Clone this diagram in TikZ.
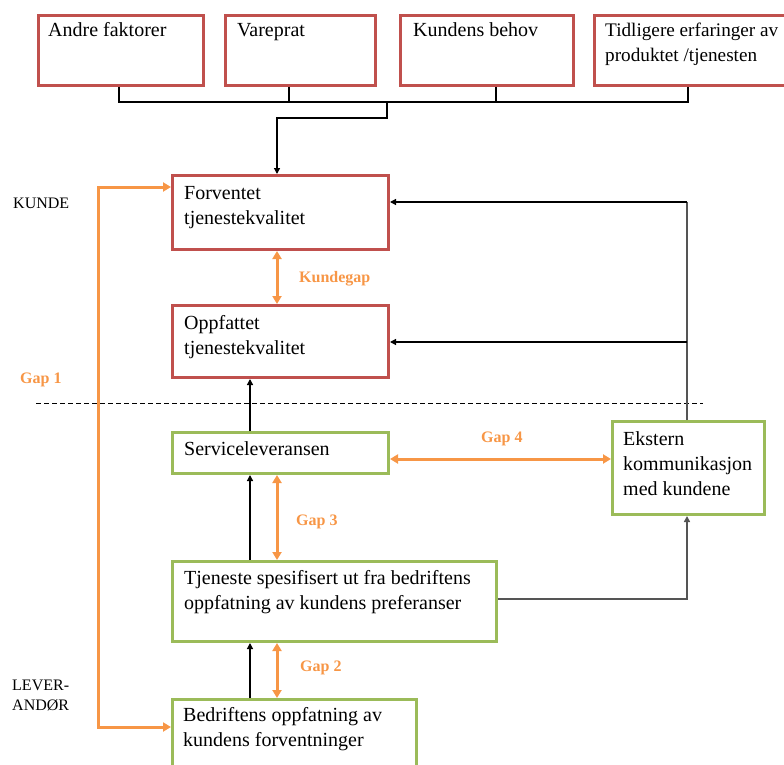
\documentclass[tikz,border=0pt]{standalone}
\usepackage{fontspec}
\setmainfont{Liberation Serif}
\usetikzlibrary{arrows.meta}
\definecolor{boxred}{HTML}{C0504D}
\definecolor{boxgreen}{HTML}{9BBB59}
\definecolor{gaporange}{HTML}{F79646}
\definecolor{linegray}{HTML}{555555}
\tikzset{
  box/.style={draw, line width=3pt, fill=white, inner sep=0pt, anchor=north west},
  redbox/.style={box, draw=boxred},
  greenbox/.style={box, draw=boxgreen},
  % multi-line texts are placed by the baseline of their last line
  boxtext/.style={anchor=base west, inner sep=0pt, align=left,
    font=\fontsize{20}{25}\selectfont},
  sidetext/.style={anchor=base west, inner sep=0pt, align=left,
    font=\fontsize{16}{20}\selectfont},
  gaptext/.style={anchor=base west, inner sep=0pt, text=gaporange,
    font=\fontsize{16}{20}\selectfont\bfseries},
  link/.style={line width=1.3pt, black},
  arr/.style={link, -{Triangle[length=6pt,width=6pt]}},
  glink/.style={line width=1.5pt, linegray},
  garr/.style={glink, -{Triangle[length=6pt,width=6pt]}},
  gap/.style={line width=3pt, gaporange, {Triangle[length=8pt,width=9pt]}-{Triangle[length=8pt,width=9pt]}},
}
\begin{document}
\begin{tikzpicture}[x=1pt,y=-1pt]
\useasboundingbox (0,0) rectangle (784,765);
\clip (0,0) rectangle (784,765);

% --- influencing factors (top row)
\node[redbox, minimum width=165pt, minimum height=70pt] (andre) at (37,14) {};
\node[redbox, minimum width=150pt, minimum height=70pt] (vare)  at (224,14) {};
\node[redbox, minimum width=173pt, minimum height=70pt] (behov) at (399,14) {};
\node[redbox, minimum width=197pt, minimum height=70pt] (tidl)  at (593,14) {};
\node[boxtext] (tandre) at (48,37) {Andre faktorer};
\node[boxtext] (tvare)  at (237,37) {Vareprat};
\node[boxtext] (tbehov) at (413,37) {Kundens behov};
\node[boxtext, font=\fontsize{19.2}{25}\selectfont] (ttidl) at (605,62) {Tidligere erfaringer av\\produktet /tjenesten};

% --- customer side
\node[redbox, minimum width=216pt, minimum height=74pt] (forv) at (171,174) {};
\node[redbox, minimum width=216pt, minimum height=72pt] (oppf) at (171,304) {};
\node[boxtext] (tforv) at (184,224) {Forventet\\tjenestekvalitet};
\node[boxtext] (toppf) at (184,354) {Oppfattet\\tjenestekvalitet};

% --- provider side
\node[greenbox, minimum width=216pt, minimum height=41pt] (serv) at (171,431) {};
\node[greenbox, minimum width=324pt, minimum height=80pt] (tjen) at (171,560) {};
\node[greenbox, minimum width=244pt, minimum height=80pt] (bedr) at (171,698) {};
\node[greenbox, minimum width=152pt, minimum height=93pt] (ekst) at (611,420) {};
\node[boxtext] (tserv) at (184,455) {Serviceleveransen};
\node[boxtext] (ttjen) at (184,609) {Tjeneste spesifisert ut fra bedriftens\\oppfatning av kundens preferanser};
\node[boxtext] (tbedr) at (183,746) {Bedriftens oppfatning av\\kundens forventninger};
\node[boxtext] (tekst) at (623,495) {Ekstern\\kommunikasjon\\med kundene};

% --- side labels
\node[sidetext] (kunde) at (13,208) {KUNDE};
\node[sidetext] (lev) at (12,710) {LEVER-\\ANDØR};
\node[gaptext] (gap1) at (20,383) {Gap 1};
\node[gaptext] (kgap) at (299,282) {Kundegap};
\node[gaptext] (gap4) at (481,442) {Gap 4};
\node[gaptext] (gap3) at (296,525) {Gap 3};
\node[gaptext] (gap2) at (300,671) {Gap 2};

% --- helper coordinates
\coordinate (b1) at (119,102);
\coordinate (b2) at (289,102);
\coordinate (b3) at (496,102);
\coordinate (b4) at (688,102);
\coordinate (bj) at (387,102);
\coordinate (xa) at (250,0);
\coordinate (xo) at (277,0);
\coordinate (g4) at (0,459);
\coordinate (rv) at (687,0);
\coordinate (ot) at (98,187);
\coordinate (ob) at (98,727);
\coordinate (dl) at (36,403);
\coordinate (dr) at (703,403);

% --- factors feed expected quality
\draw[link] (andre.south -| b1) -- (b1) -- (b4) -- (tidl.south -| b4);
\draw[link] (vare.south -| b2) -- (b2);
\draw[link] (behov.south -| b3) -- (b3);
\draw[arr] (bj) -- ++(0,16) -| (forv.north -| xo);

% --- boundary between customer and provider
\draw[line width=1pt, dash pattern=on 5pt off 3pt] (dl) -- (dr);

% --- gaps
\draw[gap] (forv.south -| xo) -- (oppf.north -| xo);
\draw[gap] (serv.south -| xo) -- (tjen.north -| xo);
\draw[gap] (tjen.south -| xo) -- (bedr.north -| xo);
\draw[gap] (serv.east |- g4) -- (ekst.west |- g4);
\draw[gap] (forv.west |- ot) -- (ot) -- (ob) -- (bedr.west |- ob);

% --- process flow
\draw[arr] (serv.north -| xa) -- (oppf.south -| xa);
\draw[arr] (tjen.north -| xa) -- (serv.south -| xa);
\draw[arr] (bedr.north -| xa) -- (tjen.south -| xa);

% --- external communication
\draw[garr] (tjen.east |- 0,599) -| (ekst.south -| rv);
\draw[glink] (ekst.north -| rv) -- (rv |- 0,202);
\draw[arr] (rv |- 0,202) -- (forv.east |- 0,202);
\draw[arr] (rv |- 0,342) -- (oppf.east |- 0,342);
\end{tikzpicture}
\end{document}
